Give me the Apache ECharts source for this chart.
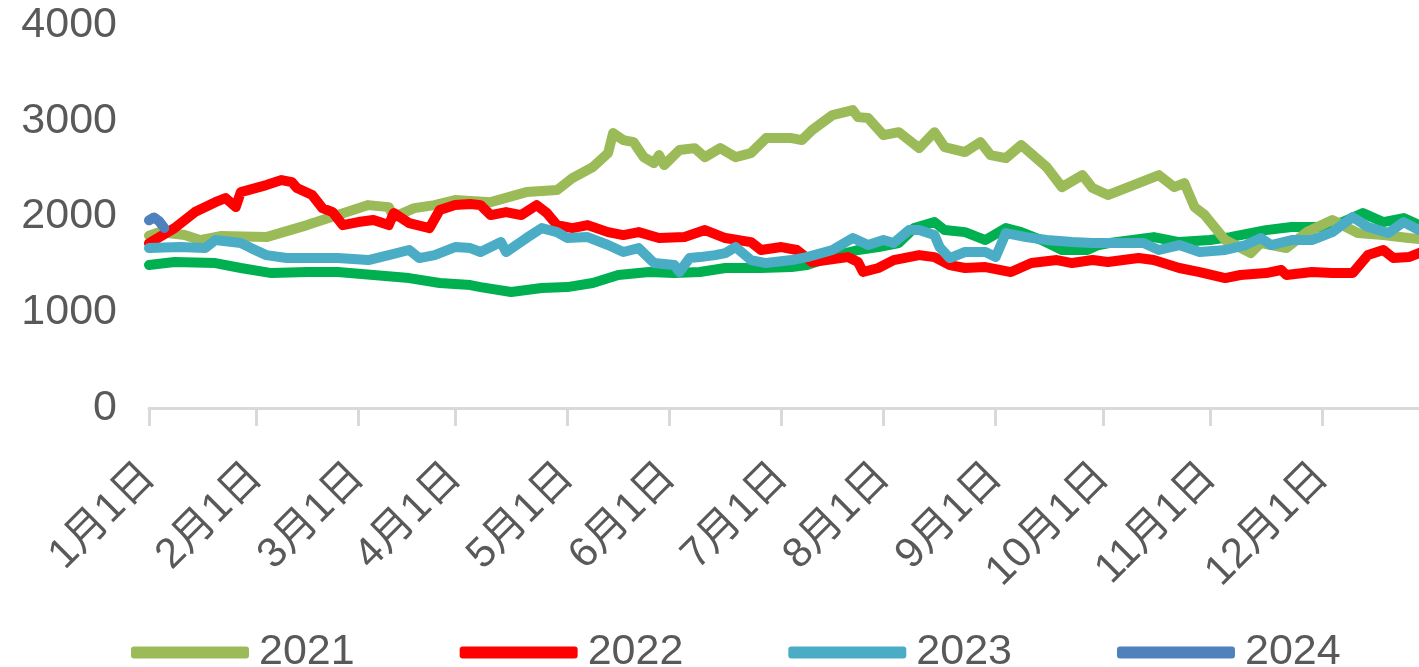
<!DOCTYPE html>
<html>
<head>
<meta charset="utf-8">
<script src="https://cdn.jsdelivr.net/npm/echarts@6/dist/echarts.min.js"></script>
<style>
  html, body { margin: 0; padding: 0; background: #fff; }
  #chart { width: 1419px; height: 667px; }
</style>
</head>
<body>
<div id="chart"></div>
<script>
// x = 交易日序号（从1月1日起），y = 价格
var monthStarts = [0, 21, 41, 60, 82, 102, 124, 144, 166, 187, 208, 230];
var monthLabels = ['1月1日', '2月1日', '3月1日', '4月1日', '5月1日', '6月1日',
	'7月1日', '8月1日', '9月1日', '10月1日', '11月1日', '12月1日'];
var yTicks = [0, 1000, 2000, 3000, 4000];
var legendNames = ['2021', '2022', '2023', '2024'];

// 深绿色线（图例中未显示）
var data2020 = [
	[0, 1493], [5, 1524], [13, 1514], [18, 1462], [24, 1409], [31, 1420], [37, 1420],
	[44, 1389], [51, 1357], [57, 1305], [63, 1284], [65, 1263], [71, 1211], [77, 1253],
	[82, 1263], [87, 1305], [92, 1389], [98, 1420], [103, 1409], [108, 1420], [113, 1462],
	[120, 1462], [126, 1472], [129, 1493], [135, 1597], [139, 1650], [143, 1681], [147, 1723],
	[150, 1879], [154, 1942], [156, 1858], [160, 1837], [164, 1754], [168, 1879], [171, 1837],
	[175, 1754], [179, 1650], [184, 1650], [186, 1700], [188, 1720], [197, 1785], [202, 1733],
	[208, 1754], [212, 1785], [219, 1858], [224, 1890], [230, 1890], [234, 1942], [238, 2036],
	[242, 1942], [246, 1984], [249, 1910], [251, 1900]
];

var data2021 = [
	[0, 1800], [2, 1837], [7, 1806], [10, 1754], [14, 1796], [23, 1785], [31, 1910],
	[37, 2015], [43, 2119], [47, 2098], [48, 1994], [52, 2088], [56, 2119], [60, 2172],
	[67, 2150], [74, 2255], [80, 2276], [83, 2401], [87, 2516], [90, 2662], [91, 2871],
	[93, 2798], [95, 2777], [97, 2620], [99, 2558], [100, 2641], [101, 2537], [104, 2694],
	[107, 2714], [109, 2620], [112, 2714], [115, 2620], [118, 2662], [121, 2819], [126, 2819],
	[128, 2798], [130, 2902], [134, 3059], [138, 3111], [139, 3038], [141, 3028], [144, 2850],
	[147, 2881], [151, 2714], [154, 2881], [156, 2725], [160, 2673], [163, 2777], [165, 2641],
	[168, 2610], [171, 2746], [176, 2516], [179, 2307], [183, 2432], [185, 2297], [188, 2224],
	[192, 2307], [198, 2432], [201, 2307], [203, 2349], [205, 2098], [207, 2015], [211, 1754],
	[216, 1618], [218, 1723], [223, 1670], [227, 1837], [232, 1963], [237, 1827], [242, 1806],
	[247, 1775], [250, 1760]
];

var data2022 = [
	[0, 1720], [5, 1879], [9, 2046], [13, 2150], [15, 2192], [17, 2098], [18, 2255],
	[23, 2328], [26, 2380], [28, 2359], [29, 2297], [32, 2224], [34, 2088], [36, 2046],
	[38, 1910], [41, 1942], [44, 1963], [47, 1910], [48, 2036], [51, 1931], [55, 1879],
	[57, 2067], [60, 2119], [63, 2130], [65, 2119], [67, 2015], [70, 2046], [73, 2015],
	[76, 2119], [78, 2036], [80, 1910], [83, 1879], [86, 1910], [90, 1837], [93, 1806],
	[96, 1837], [100, 1775], [105, 1785], [109, 1858], [113, 1775], [118, 1733], [120, 1650],
	[124, 1681], [127, 1650], [130, 1524], [137, 1576], [139, 1524], [140, 1420], [143, 1462],
	[146, 1545], [151, 1597], [154, 1576], [157, 1493], [160, 1462], [164, 1472], [169, 1420],
	[173, 1514], [178, 1545], [181, 1514], [185, 1545], [188, 1524], [194, 1566], [197, 1545],
	[202, 1462], [206, 1420], [211, 1357], [214, 1389], [219, 1409], [222, 1441], [223, 1389],
	[228, 1420], [232, 1409], [236, 1409], [239, 1597], [242, 1650], [244, 1566], [247, 1576],
	[250, 1640]
];

var data2023 = [
	[0, 1670], [6, 1681], [11, 1670], [13, 1754], [18, 1723], [20, 1670], [23, 1597],
	[27, 1566], [32, 1566], [37, 1566], [43, 1545], [47, 1597], [51, 1650], [53, 1566],
	[56, 1597], [60, 1681], [63, 1670], [65, 1629], [69, 1733], [70, 1629], [74, 1775],
	[77, 1879], [80, 1837], [82, 1775], [86, 1785], [90, 1702], [93, 1629], [96, 1670],
	[99, 1514], [103, 1493], [104, 1420], [106, 1566], [108, 1576], [111, 1597], [113, 1618],
	[115, 1681], [118, 1545], [121, 1514], [126, 1545], [129, 1576], [134, 1650], [138, 1775],
	[141, 1702], [144, 1754], [146, 1723], [149, 1858], [151, 1858], [154, 1806], [155, 1681],
	[157, 1566], [160, 1629], [164, 1629], [166, 1576], [168, 1827], [172, 1785], [176, 1754],
	[181, 1733], [185, 1723], [188, 1723], [195, 1723], [198, 1650], [202, 1702], [206, 1629],
	[211, 1650], [215, 1702], [218, 1775], [220, 1702], [224, 1754], [228, 1754], [232, 1837],
	[236, 1994], [239, 1890], [243, 1827], [246, 1942], [249, 1858], [251, 1850]
];

var data2024 = [[0, 1960], [1, 1990], [2, 1950], [3, 1880]];

(function () {
	let myChart = echarts.init(document.getElementById('chart'));
	let labelColor = '#595959';
	let lineW = 10;

	function lineSeries(name, data, color) {
		return {
			name: name,
			type: 'line',
			data: data,
			showSymbol: false,
			symbol: 'none',
			smooth: false,
			clip: true,
			lineStyle: { color: color, width: lineW, cap: 'round', join: 'round' },
			itemStyle: { color: color },
			animation: false
		};
	}

	let option = {
		backgroundColor: '#fff',
		animation: false,
		grid: {
			left: 149,
			top: 25,
			bottom: 259,
			right: 0,
			containLabel: false
		},
		legend: {
			data: legendNames,
			left: 126,
			top: 626,
			itemWidth: 118,
			itemHeight: 12,
			itemGap: 105,
			icon: 'roundRect',
			textStyle: {
				color: labelColor,
				fontSize: 43,
				fontFamily: 'Liberation Sans',
				padding: [0, 0, 0, 5]
			}
		},
		xAxis: {
			type: 'value',
			min: 0,
			// 图表右侧被裁切，只显示到第249个交易日左右
			max: 249,
			axisLine: { lineStyle: { color: '#d9d9d9', width: 3 } },
			axisTick: {
				show: true,
				customValues: monthStarts,
				length: 18,
				lineStyle: { color: '#d9d9d9', width: 3 }
			},
			axisLabel: {
				customValues: monthStarts,
				rotate: 45,
				margin: 62,
				color: labelColor,
				fontSize: 42,
				fontFamily: 'Liberation Sans, Noto Sans CJK SC',
				formatter: function (v) {
					return monthLabels[monthStarts.indexOf(v)];
				}
			},
			splitLine: { show: false }
		},
		yAxis: {
			type: 'value',
			min: yTicks[0],
			max: yTicks[yTicks.length - 1],
			interval: 1000,
			axisLine: { show: false },
			axisTick: { show: false },
			splitLine: { show: false },
			axisLabel: {
				color: labelColor,
				fontSize: 43,
				margin: 32,
				fontFamily: 'Liberation Sans',
				formatter: function (v) {
					return String(v);
				}
			}
		},
		series: [
			lineSeries('2020', data2020, '#00B050'),
			lineSeries('2021', data2021, '#9BBB59'),
			lineSeries('2022', data2022, '#FF0000'),
			lineSeries('2023', data2023, '#4BACC6'),
			lineSeries('2024', data2024, '#4F81BD')
		]
	};
	myChart.setOption(option);
	window.addEventListener('resize', function () {
		myChart.resize();
	});
})();
</script>
</body>
</html>
